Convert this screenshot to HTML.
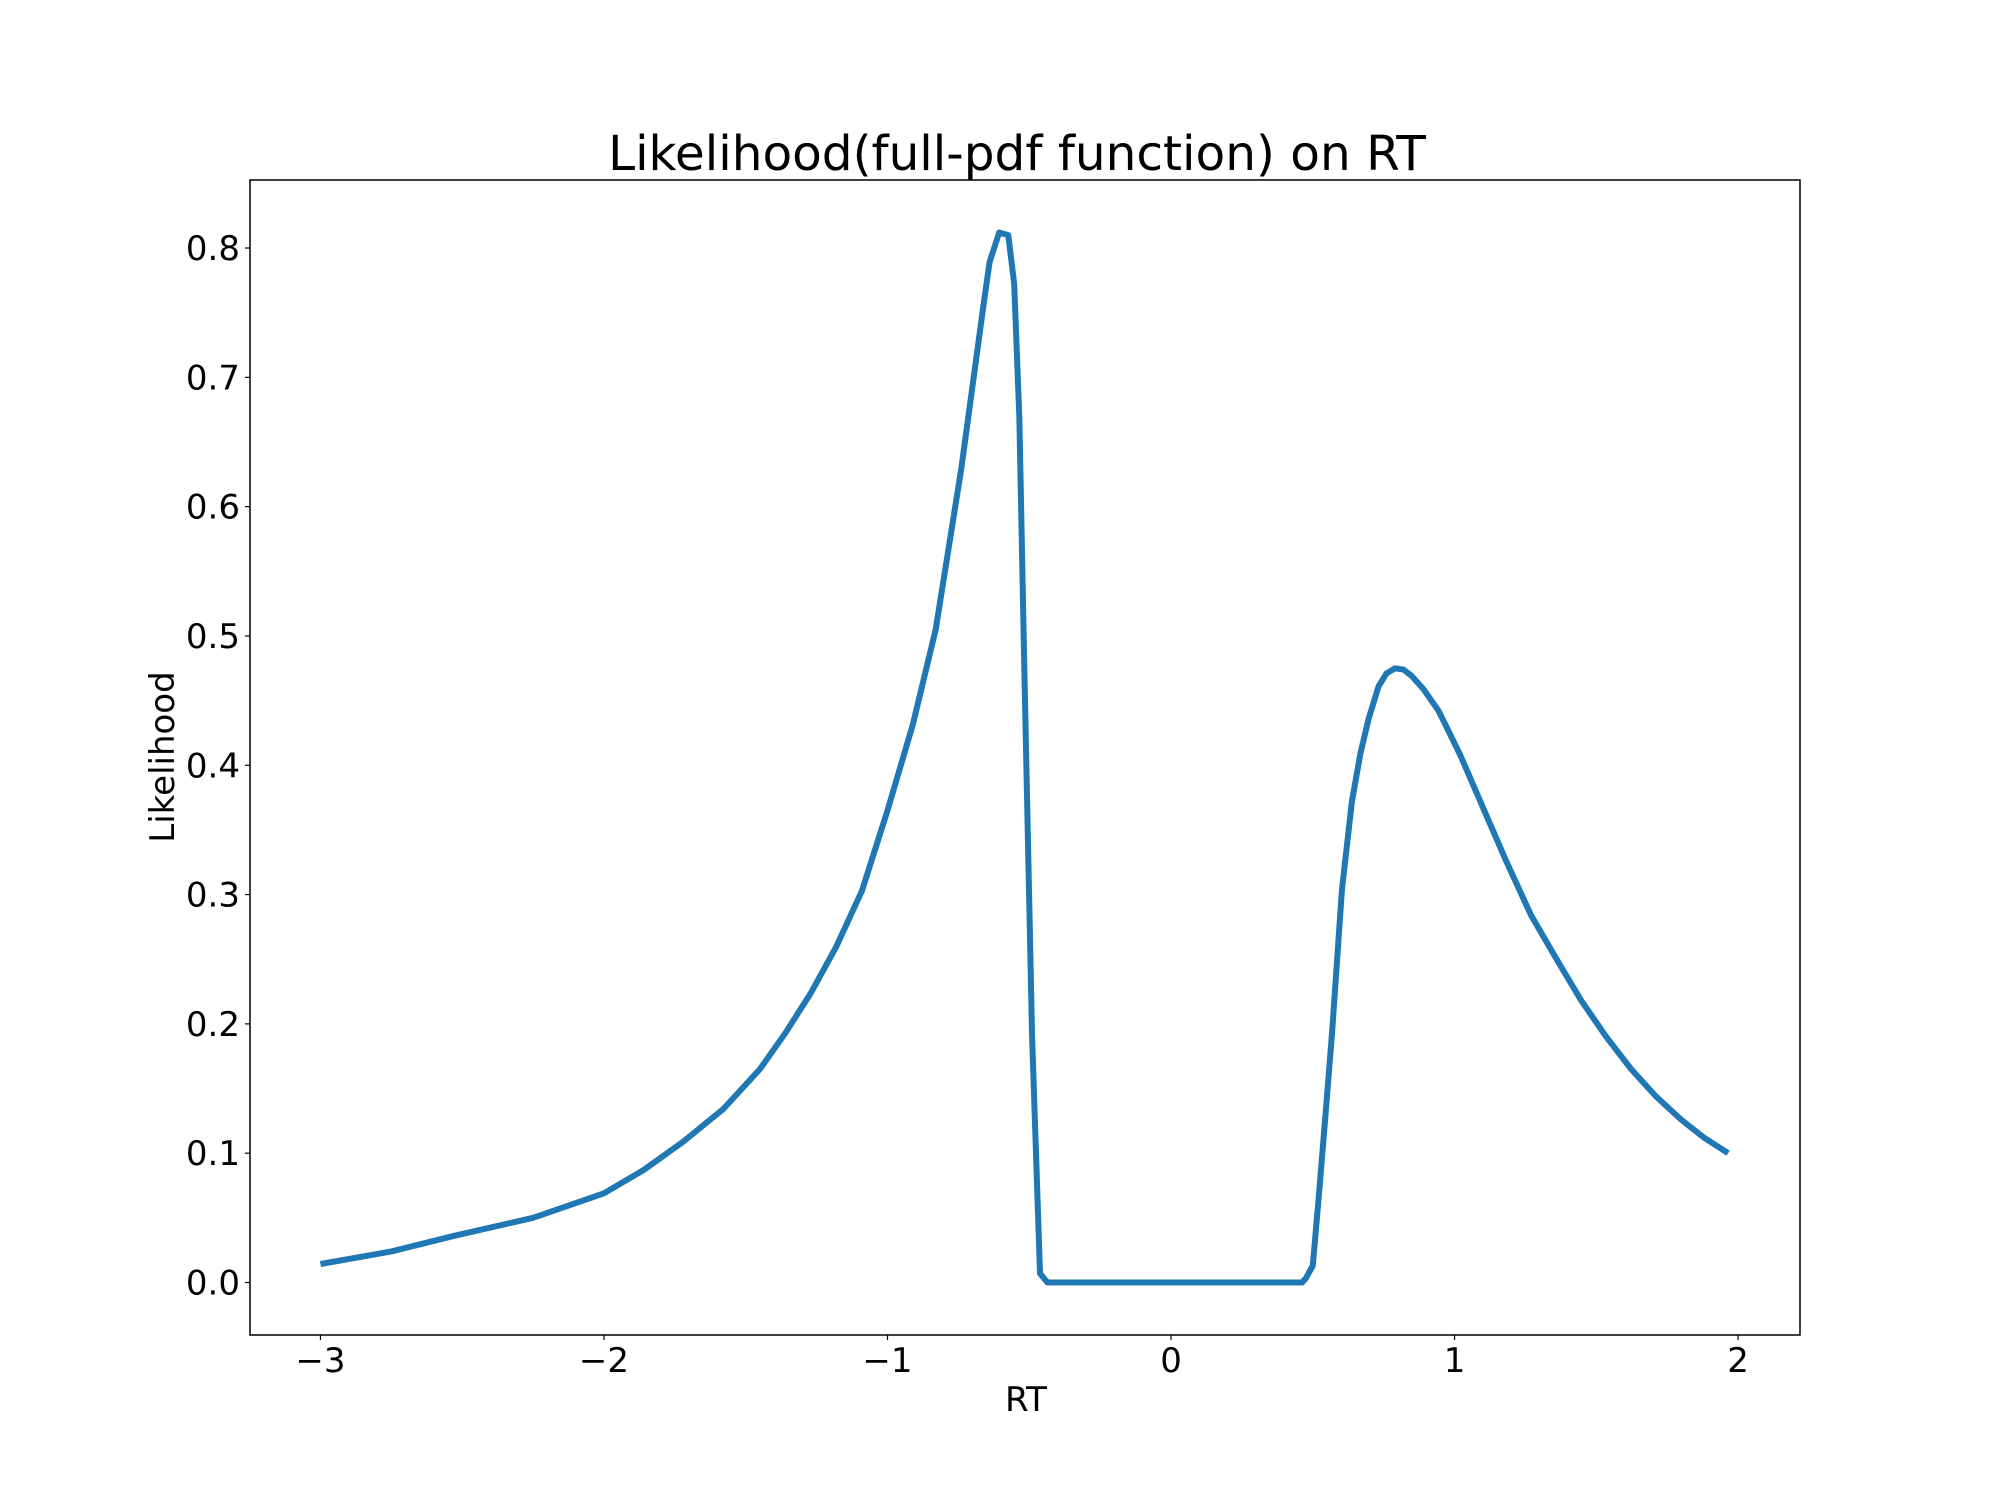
<!DOCTYPE html>
<html><head><meta charset="utf-8"><style>
html,body{margin:0;padding:0;background:#fff;}
svg text{font-family:"DejaVu Sans","Liberation Sans",sans-serif;fill:#000;}
</style></head><body>
<svg id="chart" width="2000" height="1500" xmlns="http://www.w3.org/2000/svg">
<rect width="2000" height="1500" fill="#fff"/>
<text x="1017" y="170" font-size="48.5" text-anchor="middle">Likelihood(full-pdf function) on RT</text>
<g id="xticks"></g>
<g id="yticks"></g>
<path id="curve" fill="none" stroke="#1f77b4" stroke-width="6" stroke-linejoin="round" stroke-linecap="butt"/>
<rect x="250" y="180" width="1550" height="1155" fill="none" stroke="#000" stroke-width="1.5"/>
<text x="1026" y="1411" font-size="34" text-anchor="middle">RT</text>
<text x="174" y="757" font-size="34" text-anchor="middle" transform="rotate(-90 174 757)">Likelihood</text>
</svg>
<script>
const xs=[-3,-2.75,-2.53,-2.25,-2,-1.86,-1.72,-1.58,-1.45,-1.36,-1.27,-1.18,-1.09,-1.0,-0.91,-0.83,-0.74,-0.66,-0.64,-0.606,-0.574,-0.553,-0.535,-0.517,-0.49,-0.462,-0.436,0,0.462,0.475,0.5,0.521,0.545,0.568,0.603,0.638,0.668,0.697,0.732,0.76,0.79,0.82,0.849,0.89,0.944,1.02,1.095,1.18,1.27,1.36,1.447,1.535,1.623,1.71,1.799,1.88,1.965];
const ys=[0.0143,0.024,0.036,0.05,0.069,0.087,0.109,0.134,0.165,0.193,0.224,0.26,0.303,0.365,0.432,0.505,0.629,0.758,0.789,0.812,0.81,0.772,0.669,0.471,0.19,0.007,0,0,0,0.003,0.013,0.066,0.13,0.193,0.304,0.372,0.409,0.436,0.461,0.471,0.475,0.474,0.469,0.459,0.442,0.408,0.37,0.327,0.284,0.25,0.218,0.19,0.165,0.144,0.126,0.112,0.1];
const xTicks=[-3,-2,-1,0,1,2];
const yTicks=[0,0.1,0.2,0.3,0.4,0.5,0.6,0.7,0.8];
const X0=250,X1=1800,Y0=1335,Y1=180,xmin=-3.2485,xmax=2.2185,ymin=-0.0406,ymax=0.8526;
function sx(v){return X0+(v-xmin)/(xmax-xmin)*(X1-X0);}
function sy(v){return Y0-(v-ymin)/(ymax-ymin)*(Y0-Y1);}
const NS="http://www.w3.org/2000/svg";
let d="";xs.forEach((x,i)=>{d+=(i?"L":"M")+sx(x).toFixed(2)+","+sy(ys[i]).toFixed(2);});
document.getElementById('curve').setAttribute('d',d);
const xg=document.getElementById('xticks'),yg=document.getElementById('yticks');
xTicks.forEach(t=>{
 const l=document.createElementNS(NS,'line');
 
 
 l.setAttribute('x1',sx(t));l.setAttribute('x2',sx(t));l.setAttribute('y1',Y0);l.setAttribute('y2',Y0+5);l.setAttribute('stroke','#000');l.setAttribute('stroke-width','1.2');
 xg.appendChild(l);
 const tx=document.createElementNS(NS,'text');
 
 
 tx.setAttribute('x',sx(t));tx.setAttribute('y',Y0+37);tx.setAttribute('font-size','34');tx.setAttribute('text-anchor','middle');
 tx.textContent=t<0?'\u2212'+(-t):String(t);
 xg.appendChild(tx);
});
yTicks.forEach(t=>{
 const l=document.createElementNS(NS,'line');
 
 
 l.setAttribute('x1',X0-5);l.setAttribute('x2',X0);l.setAttribute('y1',sy(t));l.setAttribute('y2',sy(t));l.setAttribute('stroke','#000');l.setAttribute('stroke-width','1.2');
 yg.appendChild(l);
 const tx=document.createElementNS(NS,'text');
 
 
 tx.setAttribute('x',X0-10);tx.setAttribute('y',sy(t)+12);tx.setAttribute('font-size','34');tx.setAttribute('text-anchor','end');
 tx.textContent=t.toFixed(1);
 yg.appendChild(tx);
});
</script>
</body></html>
